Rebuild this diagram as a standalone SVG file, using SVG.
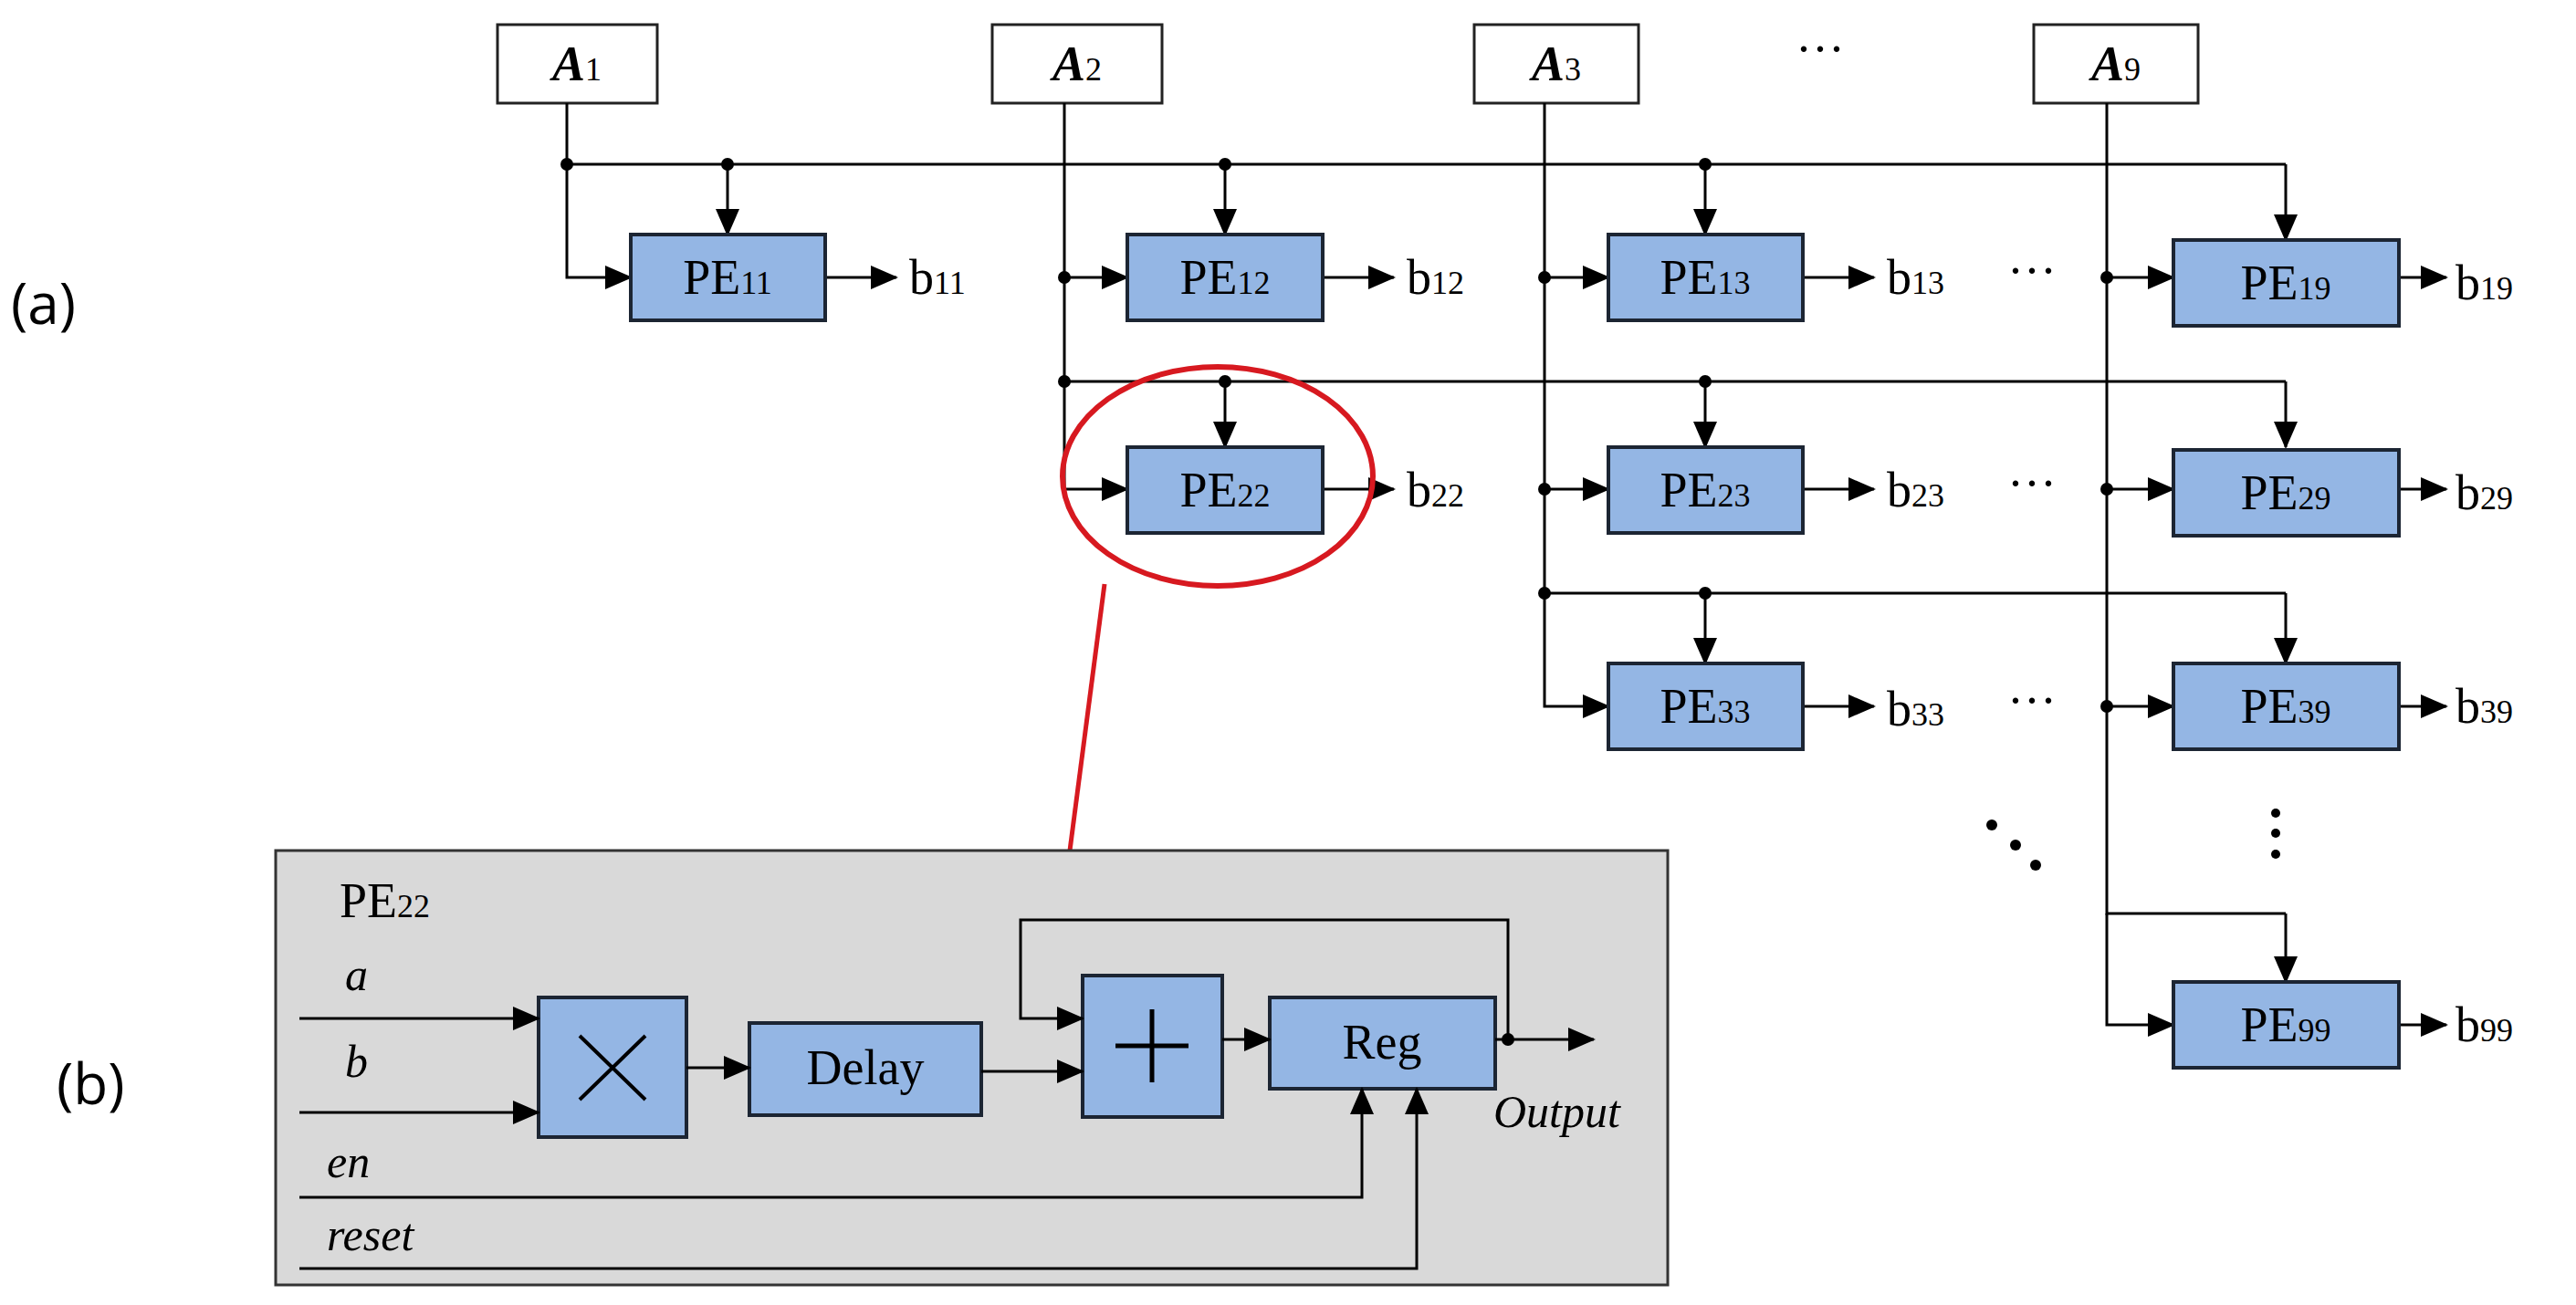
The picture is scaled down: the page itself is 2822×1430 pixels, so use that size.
<svg xmlns="http://www.w3.org/2000/svg" width="2822" height="1430" viewBox="0 0 2822 1430">
<defs>
<marker id="ah" markerUnits="userSpaceOnUse" markerWidth="30" markerHeight="30" viewBox="0 0 30 30" refX="28" refY="15" orient="auto"><path d="M0,2 L30,15 L0,28 Z" fill="#000"/></marker>
<style>
.ln{fill:none;stroke:#000;stroke-width:3}
.ar{fill:none;stroke:#000;stroke-width:3;marker-end:url(#ah)}
.pe{fill:#94b6e4;stroke:#1c2533;stroke-width:4}
.ab{fill:#fff;stroke:#222;stroke-width:3}
.t{font-family:"Liberation Serif",serif;font-size:54px;fill:#000}
.s{font-size:36px}
.it{font-family:"Liberation Serif",serif;font-style:italic;font-size:50px;fill:#000}
.lab{font-family:"Open Sans","Liberation Sans",sans-serif;font-size:62px;fill:#000}
</style>
</defs>
<rect width="2822" height="1430" fill="#fff"/>
<text class="lab" x="12" y="355">(a)</text>
<text class="lab" x="62" y="1210">(b)</text>
<g id="A1"><rect class="ab" x="545" y="27" width="175" height="86"/><text class="t" x="632" y="88" text-anchor="middle" font-style="italic" font-weight="bold">A<tspan class="s" font-weight="normal" font-style="normal">1</tspan></text></g>
<g id="A2"><rect class="ab" x="1087" y="27" width="186" height="86"/><text class="t" x="1180" y="88" text-anchor="middle" font-style="italic" font-weight="bold">A<tspan class="s" font-weight="normal" font-style="normal">2</tspan></text></g>
<g id="A3"><rect class="ab" x="1615" y="27" width="180" height="86"/><text class="t" x="1705" y="88" text-anchor="middle" font-style="italic" font-weight="bold">A<tspan class="s" font-weight="normal" font-style="normal">3</tspan></text></g>
<g id="A9"><rect class="ab" x="2228" y="27" width="180" height="86"/><text class="t" x="2318" y="88" text-anchor="middle" font-style="italic" font-weight="bold">A<tspan class="s" font-weight="normal" font-style="normal">9</tspan></text></g>
<text class="t" x="1994" y="72" text-anchor="middle">···</text>
<g id="connectors">
<path class="ln" d="M621,113 V180 H2504"/>
<path class="ar" d="M621,180 V304 H691"/>
<path class="ar" d="M797,180 V257"/>
<path class="ar" d="M1342,180 V257"/>
<path class="ar" d="M1868,180 V257"/>
<path class="ar" d="M2504,180 V263"/>
<path class="ln" d="M1166,113 V418 H2504"/>
<path class="ar" d="M1166,304 H1235"/>
<path class="ar" d="M1166,418 V536 H1235"/>
<path class="ar" d="M1342,418 V490"/>
<path class="ar" d="M1868,418 V490"/>
<path class="ar" d="M2504,418 V490"/>
<path class="ln" d="M1692,113 V650 H2504"/>
<path class="ar" d="M1692,304 H1762"/>
<path class="ar" d="M1692,536 H1762"/>
<path class="ar" d="M1692,650 V774 H1762"/>
<path class="ar" d="M1868,650 V727"/>
<path class="ar" d="M2504,650 V727"/>
<path class="ln" d="M2308,113 V1001 H2504"/>
<path class="ar" d="M2308,304 H2381"/>
<path class="ar" d="M2308,536 H2381"/>
<path class="ar" d="M2308,774 H2381"/>
<path class="ar" d="M2308,1001 V1123 H2381"/>
<path class="ar" d="M2504,1001 V1076"/>
<path class="ar" d="M904,304 H982"/><path class="ar" d="M1449,304 H1527"/><path class="ar" d="M1975,304 H2053"/><path class="ar" d="M2628,304 H2680"/>
<path class="ar" d="M1449,536 H1527"/><path class="ar" d="M1975,536 H2053"/><path class="ar" d="M2628,536 H2680"/>
<path class="ar" d="M1975,774 H2053"/><path class="ar" d="M2628,774 H2680"/>
<path class="ar" d="M2628,1123 H2680"/>
<g fill="#000">
<circle cx="621" cy="180" r="7"/><circle cx="797" cy="180" r="7"/><circle cx="1342" cy="180" r="7"/><circle cx="1868" cy="180" r="7"/>
<circle cx="1166" cy="304" r="7"/><circle cx="1166" cy="418" r="7"/><circle cx="1342" cy="418" r="7"/><circle cx="1868" cy="418" r="7"/>
<circle cx="1692" cy="304" r="7"/><circle cx="1692" cy="536" r="7"/><circle cx="1692" cy="650" r="7"/><circle cx="1868" cy="650" r="7"/>
<circle cx="2308" cy="304" r="7"/><circle cx="2308" cy="536" r="7"/><circle cx="2308" cy="774" r="7"/>
<circle cx="2182" cy="904" r="6"/><circle cx="2208" cy="926" r="6"/><circle cx="2230" cy="948" r="6"/>
<circle cx="2493" cy="891" r="5"/><circle cx="2493" cy="913" r="5"/><circle cx="2493" cy="936" r="5"/>
</g>
</g>
<g id="PE11"><rect class="pe" x="691" y="257" width="213" height="94"/><text class="t" x="797" y="322" text-anchor="middle">PE<tspan class="s">11</tspan></text></g>
<g id="PE12"><rect class="pe" x="1235" y="257" width="214" height="94"/><text class="t" x="1342" y="322" text-anchor="middle">PE<tspan class="s">12</tspan></text></g>
<g id="PE13"><rect class="pe" x="1762" y="257" width="213" height="94"/><text class="t" x="1868" y="322" text-anchor="middle">PE<tspan class="s">13</tspan></text></g>
<g id="PE19"><rect class="pe" x="2381" y="263" width="247" height="94"/><text class="t" x="2504" y="328" text-anchor="middle">PE<tspan class="s">19</tspan></text></g>
<g id="PE22"><rect class="pe" x="1235" y="490" width="214" height="94"/><text class="t" x="1342" y="555" text-anchor="middle">PE<tspan class="s">22</tspan></text></g>
<g id="PE23"><rect class="pe" x="1762" y="490" width="213" height="94"/><text class="t" x="1868" y="555" text-anchor="middle">PE<tspan class="s">23</tspan></text></g>
<g id="PE29"><rect class="pe" x="2381" y="493" width="247" height="94"/><text class="t" x="2504" y="558" text-anchor="middle">PE<tspan class="s">29</tspan></text></g>
<g id="PE33"><rect class="pe" x="1762" y="727" width="213" height="94"/><text class="t" x="1868" y="792" text-anchor="middle">PE<tspan class="s">33</tspan></text></g>
<g id="PE39"><rect class="pe" x="2381" y="727" width="247" height="94"/><text class="t" x="2504" y="792" text-anchor="middle">PE<tspan class="s">39</tspan></text></g>
<g id="PE99"><rect class="pe" x="2381" y="1076" width="247" height="94"/><text class="t" x="2504" y="1141" text-anchor="middle">PE<tspan class="s">99</tspan></text></g>
<g class="t">
<text class="t" x="996" y="322">b<tspan class="s">11</tspan></text>
<text class="t" x="1541" y="322">b<tspan class="s">12</tspan></text>
<text class="t" x="2067" y="322">b<tspan class="s">13</tspan></text>
<text class="t" x="2690" y="328">b<tspan class="s">19</tspan></text>
<text class="t" x="1541" y="555">b<tspan class="s">22</tspan></text>
<text class="t" x="2067" y="555">b<tspan class="s">23</tspan></text>
<text class="t" x="2690" y="558">b<tspan class="s">29</tspan></text>
<text class="t" x="2067" y="795">b<tspan class="s">33</tspan></text>
<text class="t" x="2690" y="792">b<tspan class="s">39</tspan></text>
<text class="t" x="2690" y="1141">b<tspan class="s">99</tspan></text>
<text class="t" x="2226" y="315" text-anchor="middle">···</text>
<text class="t" x="2226" y="548" text-anchor="middle">···</text>
<text class="t" x="2226" y="786" text-anchor="middle">···</text>
</g>
<ellipse cx="1334" cy="522" rx="170" ry="120" fill="none" stroke="#d71920" stroke-width="6"/>
<line x1="1210" y1="640" x2="1172" y2="932" stroke="#d71920" stroke-width="5"/>
<g id="panelB">
<rect x="302" y="932" width="1525" height="476" fill="#d9d9d9" stroke="#333" stroke-width="3"/>
<text class="t" x="372" y="1005">PE<tspan class="s">22</tspan></text>
<text class="it" x="378" y="1085">a</text>
<text class="it" x="378" y="1180">b</text>
<text class="it" x="358" y="1290">en</text>
<text class="it" x="358" y="1370">reset</text>
<text class="it" x="1636" y="1235">Output</text>
<g id="mult"><rect class="pe" x="590" y="1093" width="162" height="153"/><path d="M635,1135 L707,1205 M707,1135 L635,1205" stroke="#000" stroke-width="4"/></g>
<g id="delay"><rect class="pe" x="821" y="1121" width="254" height="101"/><text class="t" x="948" y="1188" text-anchor="middle">Delay</text></g>
<g id="adder"><rect class="pe" x="1186" y="1069" width="153" height="155"/><path d="M1222,1146 H1302 M1262,1106 V1186" stroke="#000" stroke-width="5"/></g>
<g id="reg"><rect class="pe" x="1391" y="1093" width="247" height="100"/><text class="t" x="1514" y="1160" text-antichor="middle" text-anchor="middle">Reg</text></g>
<g id="connectorsB">
<path class="ar" d="M328,1116 H590"/>
<path class="ar" d="M328,1219 H590"/>
<path class="ar" d="M752,1170 H821"/>
<path class="ar" d="M1075,1174 H1186"/>
<path class="ar" d="M1339,1139 H1391"/>
<path class="ar" d="M1652,1139 V1008 H1118 V1116 H1186"/>
<path class="ar" d="M1638,1139 H1746"/>
<circle cx="1652" cy="1139" r="7" fill="#000"/>
<path class="ar" d="M328,1312 H1492 V1193"/>
<path class="ar" d="M328,1390 H1552 V1193"/>
</g>
</g>
</svg>
